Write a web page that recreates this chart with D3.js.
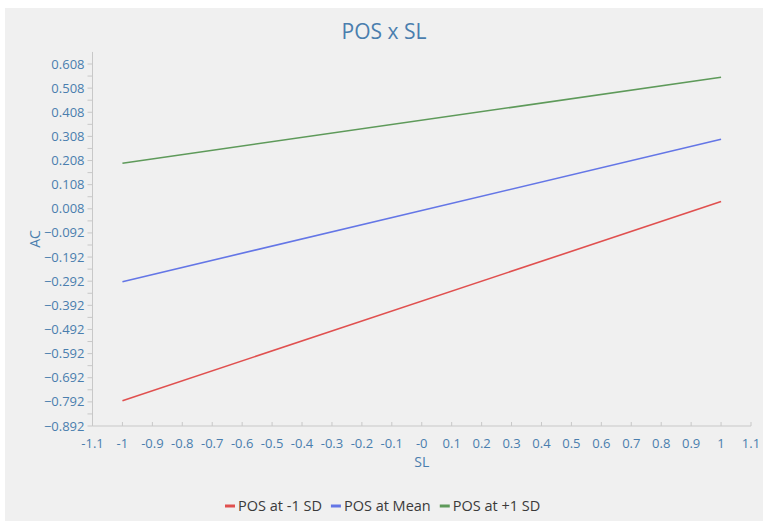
<!DOCTYPE html>
<html><head><meta charset="utf-8">
<script src="https://cdn.jsdelivr.net/npm/d3@7"></script>
<style>
body{margin:0;background:#fff;}
text{font-family:"Open Sans","Noto Sans",sans-serif;}
</style></head>
<body><svg id="c" width="768" height="529"></svg>
<script>
const xValues = [-1, 1];
const seriesNames = ["POS at -1 SD", "POS at Mean", "POS at +1 SD"];
const seriesColors = ["#e0504f", "#6476e6", "#5e9a5a"];
const seriesLow = [-0.787, -0.294, 0.197];
const seriesHigh = [0.038, 0.296, 0.553];
const xTicks = [-1.1,-1,-0.9,-0.8,-0.7,-0.6,-0.5,-0.4,-0.3,-0.2,-0.1,0,0.1,0.2,0.3,0.4,0.5,0.6,0.7,0.8,0.9,1,1.1];
const xTickLabels = ["-1.1","-1","-0.9","-0.8","-0.7","-0.6","-0.5","-0.4","-0.3","-0.2","-0.1","-0","0.1","0.2","0.3","0.4","0.5","0.6","0.7","0.8","0.9","1","1.1"];
const yTicks = [0.608,0.508,0.408,0.308,0.208,0.108,0.008,-0.092,-0.192,-0.292,-0.392,-0.492,-0.592,-0.692,-0.792,-0.892];

const svg = d3.select("#c");
const txt = "#4a7eae";
svg.append("rect").attr("x",5).attr("y",8).attr("width",758).attr("height",513).attr("fill","#f0f0f0");

const x = d3.scaleLinear().domain([-1.1,1.1]).range([92.5,751]);
const y = d3.scaleLinear().domain([-0.892,0.608]).range([426,64]);
const yTop = 0.658;

svg.append("text").attr("x",384).attr("y",39).attr("text-anchor","middle")
  .attr("font-size",21).attr("fill",txt).text("POS x SL");

// y axis
const gy = svg.append("g");
gy.append("line").attr("x1",x(-1.1)).attr("x2",x(-1.1)).attr("y1",y(yTop)).attr("y2",y(-0.892)).attr("stroke","#c8c8c8");
const minorY = [];
for (let i=0;i<=30;i++){ minorY.push(-0.892 + i*0.05); }
minorY.forEach(v=>{
  gy.append("line").attr("x1",x(-1.1)-5).attr("x2",x(-1.1)).attr("y1",y(v)).attr("y2",y(v)).attr("stroke","#c8c8c8");
});
yTicks.forEach(v=>{
  gy.append("text").attr("x",x(-1.1)-8).attr("y",y(v)).attr("dy","0.35em").attr("text-anchor","end")
    .attr("font-size",13).attr("fill",txt).text(d3.format(".3f")(v));
});
svg.append("text").attr("transform",`translate(40,${(y(yTop)+y(-0.892))/2}) rotate(-90)`)
  .attr("text-anchor","middle").attr("font-size",14).attr("fill",txt).text("AC");

// x axis
const gx = svg.append("g");
gx.append("line").attr("x1",x(-1.1)).attr("x2",x(1.1)).attr("y1",y(-0.892)).attr("y2",y(-0.892)).attr("stroke","#c8c8c8");
xTicks.forEach((v,i)=>{
  gx.append("line").attr("x1",x(v)).attr("x2",x(v)).attr("y1",y(-0.892)-4).attr("y2",y(-0.892)).attr("stroke","#c8c8c8");
  gx.append("text").attr("x",x(v)).attr("y",y(-0.892)+17).attr("dy","0.35em").attr("text-anchor","middle")
    .attr("font-size",13).attr("fill",txt).text(xTickLabels[i]);
});
svg.append("text").attr("x",x(0)).attr("y",467).attr("text-anchor","middle")
  .attr("font-size",14).attr("fill",txt).text("SL");

// lines
const line = d3.line().x(d=>x(d[0])).y(d=>y(d[1]));
seriesNames.forEach((n,i)=>{
  const pts = [[xValues[0],seriesLow[i]],[xValues[1],seriesHigh[i]]];
  svg.append("path").attr("d",line(pts)).attr("fill","none").attr("stroke",seriesColors[i]).attr("stroke-width",1.6);
});

// legend
const lg = svg.append("g");
let lx = 225;
seriesNames.forEach((n,i)=>{
  lg.append("line").attr("x1",lx).attr("x2",lx+10).attr("y1",506).attr("y2",506).attr("stroke",seriesColors[i]).attr("stroke-width",3);
  const t = lg.append("text").attr("x",lx+13).attr("y",506).attr("dy","0.35em").attr("font-size",14.5).attr("fill","#3a3a3a").text(n);
  lx += 13 + t.node().getComputedTextLength() + 9;
});
</script></body></html>
